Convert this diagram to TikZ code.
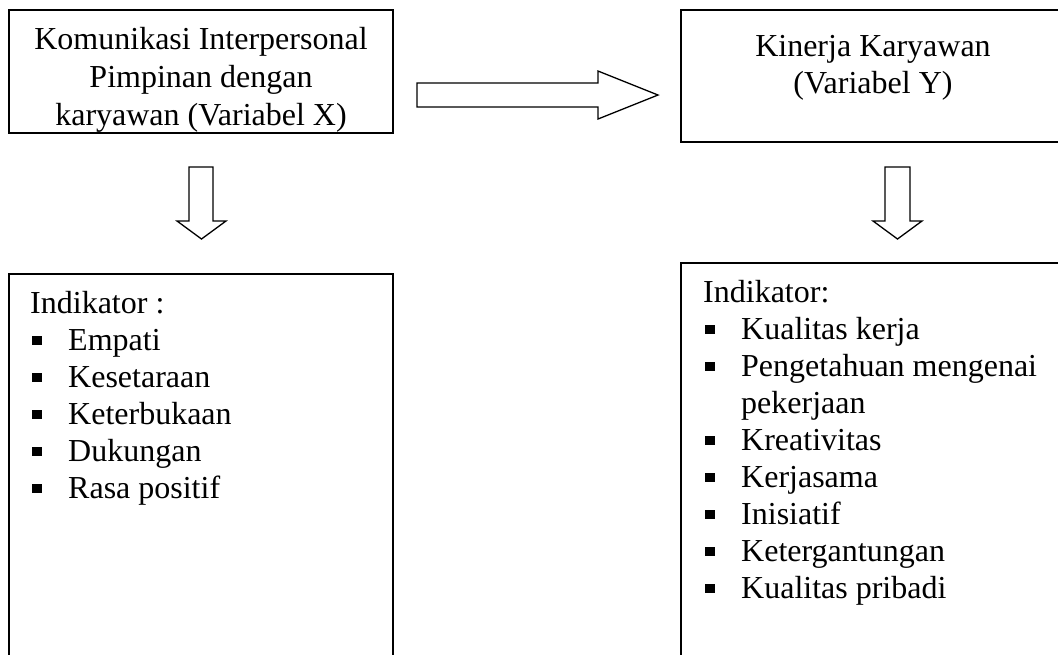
\documentclass[tikz,border=0pt]{standalone}
\usepackage{fontspec}
\setmainfont{Liberation Serif}
\begin{document}
\begin{tikzpicture}[x=1pt,y=-1pt,
  box/.style={draw=black, line width=1.5pt, inner sep=0pt},
  txt/.style={inner sep=0pt, font=\fontsize{32}{37}\selectfont},
  blockarrow/.style={draw=black, line width=1.3pt, fill=white, line join=miter}]
\useasboundingbox (0,0) rectangle (1058,654);
\newcommand{\sqbullet}{\makebox[36pt][l]{\raisebox{5pt}{\rule{9.5pt}{9.5pt}}}}

% boxes
\node[box, minimum width=384pt, minimum height=123pt] (bx) at (201,71.5) {};
\node[box, minimum width=384pt, minimum height=132pt] (by) at (873,76) {};
\node[box, minimum width=384pt, minimum height=386pt] (ix) at (201,467) {};
\node[box, minimum width=384pt, minimum height=397pt] (iy) at (873,461.5) {};

% top-left text
\node[txt, anchor=base] (bx1) at (201,49) {Komunikasi Interpersonal};
\node[txt, anchor=base] (bx2) at (201,87) {Pimpinan dengan};
\node[txt, anchor=base] (bx3) at (201,125) {karyawan (Variabel X)};

% top-right text
\node[txt, anchor=base] (by1) at (873,56) {Kinerja Karyawan};
\node[txt, anchor=base] (by2) at (873,93) {(Variabel Y)};

% left list
\node[txt, anchor=base west] (ix0) at (30,313) {Indikator :};
\node[txt, anchor=base west] (ix1) at (32,350) {\sqbullet Empati};
\node[txt, anchor=base west] (ix2) at (32,387) {\sqbullet Kesetaraan};
\node[txt, anchor=base west] (ix3) at (32,424) {\sqbullet Keterbukaan};
\node[txt, anchor=base west] (ix4) at (32,461) {\sqbullet Dukungan};
\node[txt, anchor=base west] (ix5) at (32,498) {\sqbullet Rasa positif};

% right list
\node[txt, anchor=base west] (iy0) at (703,302) {Indikator:};
\node[txt, anchor=base west] (iy1) at (705,339) {\sqbullet Kualitas kerja};
\node[txt, anchor=base west] (iy2) at (705,376) {\sqbullet Pengetahuan mengenai};
\node[txt, anchor=base west] (iy2b) at (741,413) {pekerjaan};
\node[txt, anchor=base west] (iy3) at (705,450) {\sqbullet Kreativitas};
\node[txt, anchor=base west] (iy4) at (705,487) {\sqbullet Kerjasama};
\node[txt, anchor=base west] (iy5) at (705,524) {\sqbullet Inisiatif};
\node[txt, anchor=base west] (iy6) at (705,561) {\sqbullet Ketergantungan};
\node[txt, anchor=base west] (iy7) at (705,598) {\sqbullet Kualitas pribadi};

% block arrows
\draw[blockarrow] (417,83) -- (598,83) -- (598,71) -- (658,95) -- (598,119) -- (598,107) -- (417,107) -- cycle;
\draw[blockarrow] (189,167) -- (213,167) -- (213,221) -- (226,221) -- (201.5,239) -- (177,221) -- (189,221) -- cycle;
\draw[blockarrow] (885,167) -- (910,167) -- (910,221) -- (922,221) -- (897.5,239) -- (873,221) -- (885,221) -- cycle;
\end{tikzpicture}
\end{document}
